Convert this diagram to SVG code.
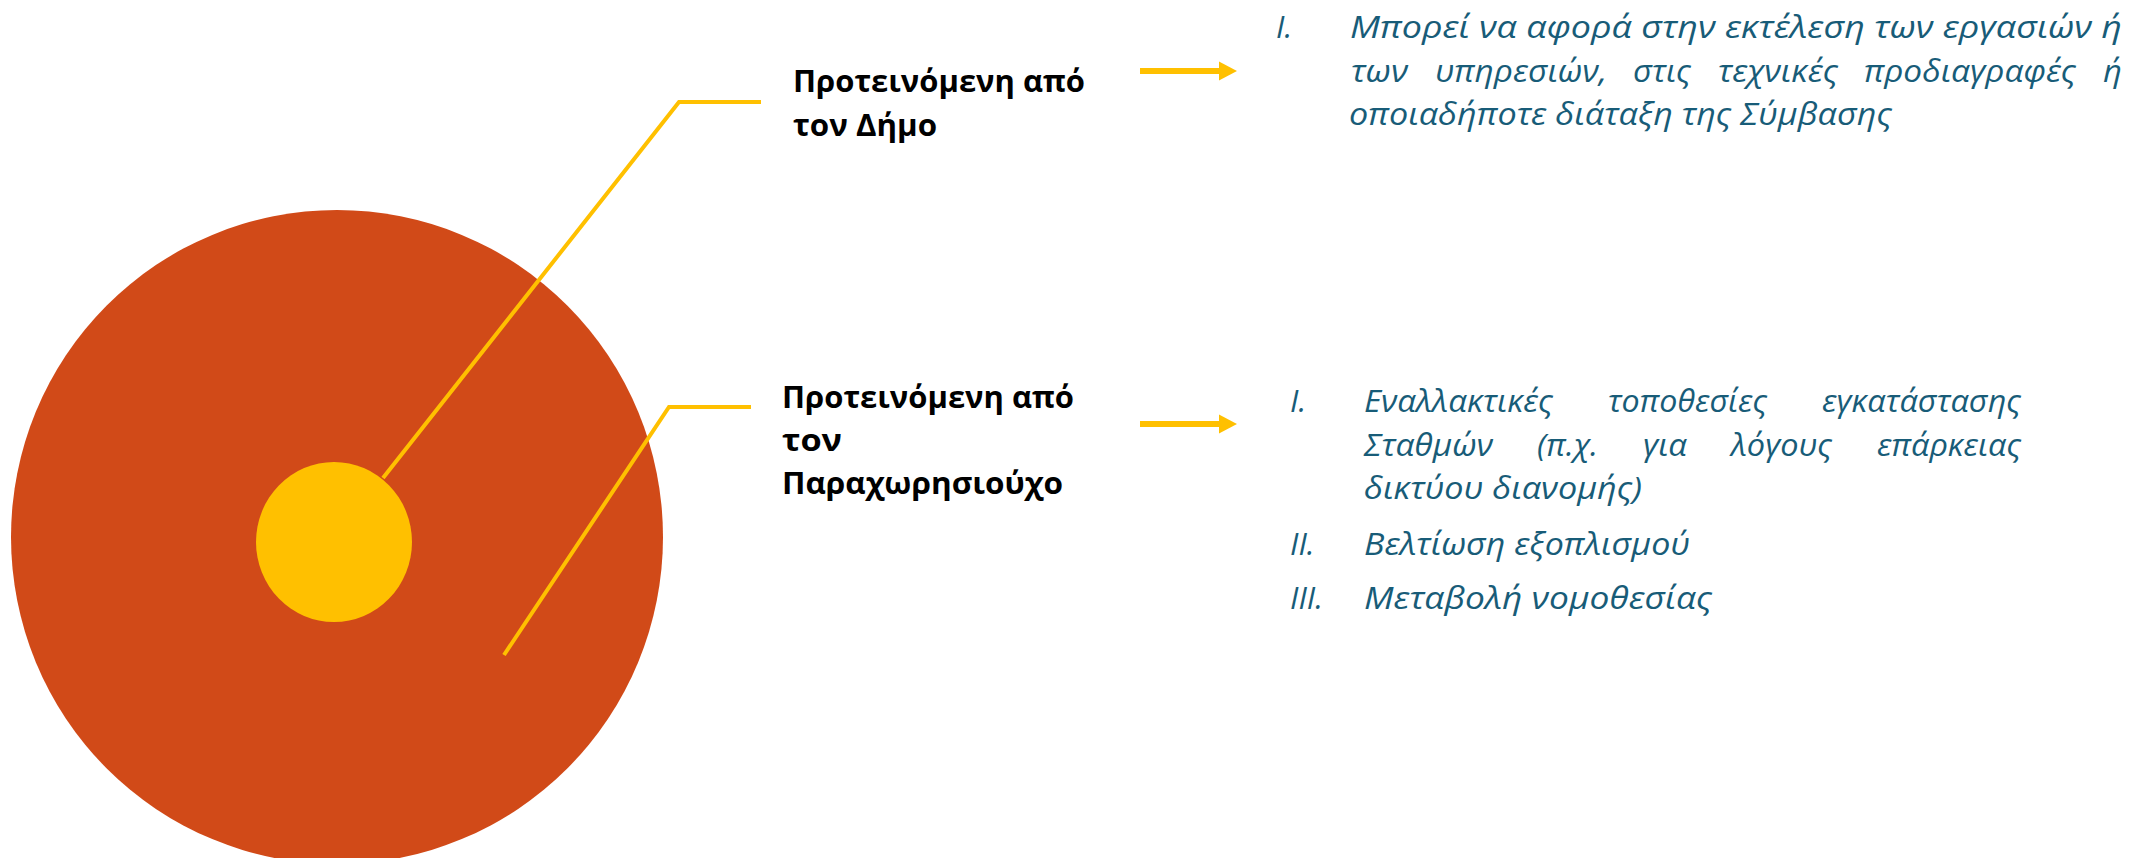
<svg xmlns="http://www.w3.org/2000/svg" width="2129" height="858" viewBox="0 0 2129 858">
<style>
.lbl{font-family:"Open Sans","Noto Sans","Liberation Sans",sans-serif;font-weight:bold;font-size:30px;fill:#000}
.itm{font-family:"Open Sans","Noto Sans","Liberation Sans",sans-serif;font-style:italic;font-size:31px;fill:#185C78}
.call{fill:none;stroke:#FFC000;stroke-width:4;stroke-linejoin:miter}
.arr{stroke:#FFC000;stroke-width:6;marker-end:url(#ah)}
</style>
<defs>
<marker id="ah" markerUnits="userSpaceOnUse" markerWidth="19" markerHeight="20" refX="0" refY="10" orient="auto">
<path d="M0,0.5 L18,10 L0,19.5 Z" fill="#FFC000"/>
</marker>
</defs>
<rect width="2129" height="858" fill="#fff"/>
<g id="outer-circle"><ellipse cx="337" cy="537" rx="326" ry="327" fill="#D14A18"/></g>
<g id="inner-circle"><ellipse cx="334" cy="542" rx="78" ry="80" fill="#FFC000"/></g>
<g id="connectors">
<polyline class="call" points="383,478 679,102 761,102"/>
<polyline class="call" points="504,655 669,407 751,407"/>
<line class="arr" x1="1140" y1="71" x2="1219" y2="71"/>
<line class="arr" x1="1140" y1="424" x2="1219" y2="424"/>
</g>
<g id="label-dimos">
<text class="lbl" x="793" y="92" textLength="292" lengthAdjust="spacingAndGlyphs">Προτεινόμενη από</text>
<text class="lbl" x="793" y="136" textLength="144" lengthAdjust="spacingAndGlyphs">τον Δήμο</text>
</g>
<g id="label-paraxorisiouxos">
<text class="lbl" x="782" y="408" textLength="292" lengthAdjust="spacingAndGlyphs">Προτεινόμενη από</text>
<text class="lbl" x="782" y="451" textLength="60" lengthAdjust="spacingAndGlyphs">τον</text>
<text class="lbl" x="782" y="494" textLength="281" lengthAdjust="spacingAndGlyphs">Παραχωρησιούχο</text>
</g>
<g id="list-dimos">
<text class="itm" x="1276" y="38">I.</text>
<text class="itm" x="1350" y="38" textLength="772" lengthAdjust="spacingAndGlyphs">Μπορεί να αφορά στην εκτέλεση των εργασιών ή</text>
<text class="itm" x="1351" y="82" textLength="57" lengthAdjust="spacingAndGlyphs">των</text>
<text class="itm" x="1435" y="82" textLength="172" lengthAdjust="spacingAndGlyphs">υπηρεσιών,</text>
<text class="itm" x="1633" y="82" textLength="58" lengthAdjust="spacingAndGlyphs">στις</text>
<text class="itm" x="1718" y="82" textLength="120" lengthAdjust="spacingAndGlyphs">τεχνικές</text>
<text class="itm" x="1864" y="82" textLength="212" lengthAdjust="spacingAndGlyphs">προδιαγραφές</text>
<text class="itm" x="2103" y="82" textLength="19" lengthAdjust="spacingAndGlyphs">ή</text>
<text class="itm" x="1349" y="125" textLength="543" lengthAdjust="spacingAndGlyphs">οποιαδήποτε διάταξη της Σύμβασης</text>
</g>
<g id="list-paraxorisiouxos">
<text class="itm" x="1290" y="412">I.</text>
<text class="itm" x="1364" y="412" textLength="189" lengthAdjust="spacingAndGlyphs">Εναλλακτικές</text>
<text class="itm" x="1608" y="412" textLength="159" lengthAdjust="spacingAndGlyphs">τοποθεσίες</text>
<text class="itm" x="1822" y="412" textLength="199" lengthAdjust="spacingAndGlyphs">εγκατάστασης</text>
<text class="itm" x="1364" y="456" textLength="129" lengthAdjust="spacingAndGlyphs">Σταθμών</text>
<text class="itm" x="1537" y="456" textLength="61" lengthAdjust="spacingAndGlyphs">(π.χ.</text>
<text class="itm" x="1643" y="456" textLength="44" lengthAdjust="spacingAndGlyphs">για</text>
<text class="itm" x="1731" y="456" textLength="101" lengthAdjust="spacingAndGlyphs">λόγους</text>
<text class="itm" x="1877" y="456" textLength="144" lengthAdjust="spacingAndGlyphs">επάρκειας</text>
<text class="itm" x="1364" y="499" textLength="278" lengthAdjust="spacingAndGlyphs">δικτύου διανομής)</text>
<text class="itm" x="1290" y="555">II.</text>
<text class="itm" x="1364" y="555" textLength="326" lengthAdjust="spacingAndGlyphs">Βελτίωση εξοπλισμού</text>
<text class="itm" x="1290" y="609">III.</text>
<text class="itm" x="1364" y="609" textLength="348" lengthAdjust="spacingAndGlyphs">Μεταβολή νομοθεσίας</text>
</g>
</svg>
